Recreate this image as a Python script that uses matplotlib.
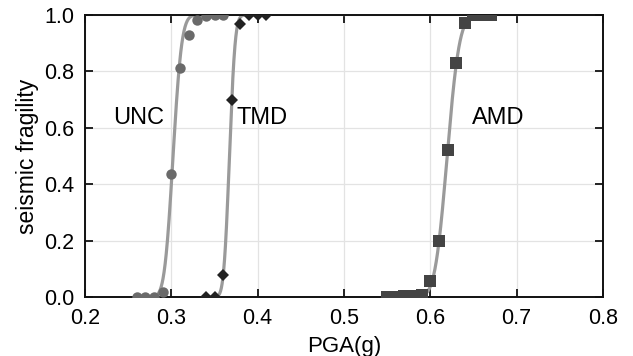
import math
import numpy as np
import matplotlib
matplotlib.use("Agg")
import matplotlib.pyplot as plt

plt.rcParams['font.family'] = ['Liberation Sans', 'DejaVu Sans']

# Data
unc_pga = [0.26, 0.27, 0.28, 0.29, 0.30, 0.31, 0.32, 0.33, 0.34, 0.35, 0.36]
unc_frag = [0.0, 0.0, 0.0, 0.018, 0.436, 0.813, 0.929, 0.982, 0.997, 1.0, 1.0]

tmd_pga = [0.34, 0.35, 0.36, 0.37, 0.38, 0.39, 0.40, 0.41]
tmd_frag = [0.0, 0.0, 0.078, 0.70, 0.967, 1.0, 1.0, 1.0]

amd_pga = [0.55, 0.56, 0.57, 0.58, 0.59, 0.60, 0.61, 0.62, 0.63, 0.64, 0.65, 0.66, 0.67]
amd_frag = [0.0, 0.001, 0.002, 0.004, 0.008, 0.057, 0.199, 0.521, 0.829, 0.973, 1.0, 1.0, 1.0]

# Fitted lognormal fragility curves: (median, dispersion)
unc_fit = (0.302, 0.026)
tmd_fit = (0.3673, 0.0140)
amd_fit = (0.6195, 0.0180)


def lognorm_cdf(x, median, beta):
    z = (np.log(x) - math.log(median)) / (beta * math.sqrt(2))
    return 0.5 * (1 + np.vectorize(math.erf)(z))


fig = plt.figure(figsize=(6.33, 3.56), dpi=100)
ax = fig.add_axes([0.1343, 0.1657, 0.8183, 0.7922])

curve_color = '#9a9a9a'
for pga, fit in [(unc_pga, unc_fit), (tmd_pga, tmd_fit), (amd_pga, amd_fit)]:
    xs = np.linspace(pga[0], pga[-1], 400)
    ax.plot(xs, lognorm_cdf(xs, *fit), color=curve_color, lw=2.3, zorder=2)

ax.plot(unc_pga, unc_frag, 'o', color='#6a6a6a', ms=7.5, mew=0, zorder=3)
ax.plot(tmd_pga, tmd_frag, 'D', color='#222222', ms=5.8, mew=0, zorder=3)
ax.plot(amd_pga, amd_frag, 's', color='#444444', ms=8, mew=0, zorder=3)

ax.text(0.232, 0.635, 'UNC', fontsize=17, va='center', ha='left')
ax.text(0.376, 0.635, 'TMD', fontsize=17, va='center', ha='left')
ax.text(0.648, 0.635, 'AMD', fontsize=17, va='center', ha='left')

ax.set_xlim(0.2, 0.8)
ax.set_ylim(0, 1.0)
ax.set_xticks([0.2, 0.3, 0.4, 0.5, 0.6, 0.7, 0.8])
ax.set_yticks([0.0, 0.2, 0.4, 0.6, 0.8, 1.0])
ax.set_xticklabels(['0.2', '0.3', '0.4', '0.5', '0.6', '0.7', '0.8'])
ax.set_yticklabels(['0.0', '0.2', '0.4', '0.6', '0.8', '1.0'])
ax.grid(True, color='#e3e3e3', lw=0.9, zorder=0)
ax.set_axisbelow(True)
ax.tick_params(direction='in', top=True, right=True, length=6, width=1.4,
               color='#222222', labelsize=15.5, pad=8)
for s in ax.spines.values():
    s.set_linewidth(1.4)
    s.set_color('#111111')

ax.set_xlabel('PGA(g)', fontsize=16, labelpad=5)
ax.set_ylabel('seismic fragility', fontsize=16.5, labelpad=3)

fig.savefig('out.png', dpi=100)
